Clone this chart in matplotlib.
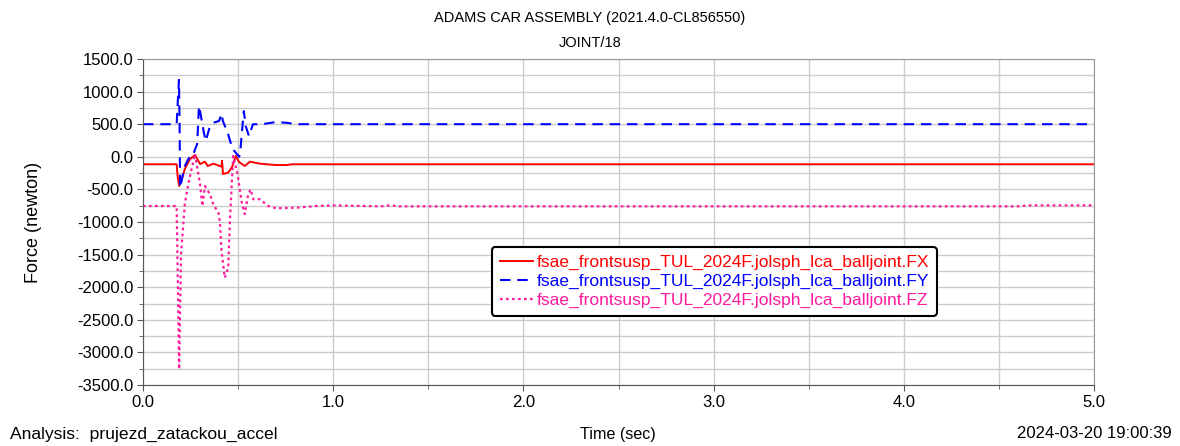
import numpy as np
import matplotlib
matplotlib.use('Agg')
import matplotlib.pyplot as plt

plt.rcParams['font.family'] = ['Liberation Sans', 'DejaVu Sans']

# FX
t_fx = [0.0, 0.177, 0.182, 0.19, 0.205, 0.22, 0.247, 0.273, 0.30, 0.326, 0.34, 0.37, 0.404,
        0.413, 0.415, 0.418, 0.42, 0.447, 0.468, 0.488, 0.505, 0.535, 0.562, 0.615, 0.70,
        0.76, 0.78, 5.0]
fx = [-115, -115, -300, -448, -330, -187, -34, 28, -110, -75, -141, -106, -141,
      -150, -60, -150, -265, -243, -160, 12, -80, -141, -75, -106, -126,
      -126, -115, -115]

# FY
t_fy = [0.0, 0.177, 0.182, 0.189, 0.192, 0.195, 0.22, 0.247, 0.263, 0.285, 0.294, 0.30,
        0.32, 0.33, 0.35, 0.37, 0.40, 0.413, 0.42, 0.447, 0.466, 0.48, 0.505, 0.51,
        0.53, 0.54, 0.557, 0.578, 0.62, 0.70, 0.76, 0.80, 5.0]
fy = [500, 500, 800, 1180, 600, -474, -141, 12, 30, 200, 780, 700,
      370, 242, 450, 523, 549, 661, 549, 350, 165, 90, 0, 40,
      700, 472, 319, 500, 498, 533, 520, 500, 500]

# FZ
t_fz = [0.0, 0.177, 0.19, 0.20, 0.22, 0.238, 0.273, 0.30, 0.312, 0.326, 0.352, 0.37, 0.396,
        0.404, 0.413, 0.43, 0.448, 0.457, 0.474, 0.497, 0.518, 0.535, 0.553, 0.566, 0.58,
        0.614, 0.658, 0.70, 0.81, 0.91, 1.0, 1.25, 1.3, 1.35, 4.6, 4.65, 5.0]
fz = [-755, -755, -3259, -1490, -725, -420, 47, -420, -755, -450, -575, -730, -857,
      -985, -1445, -1855, -1700, -985, 12, -265, -680, -880, -575, -500, -652,
      -650, -755, -790, -780, -755, -745, -760, -745, -760, -760, -745, -745]

labels = ['fsae_frontsusp_TUL_2024F.jolsph_lca_balljoint.FX',
          'fsae_frontsusp_TUL_2024F.jolsph_lca_balljoint.FY',
          'fsae_frontsusp_TUL_2024F.jolsph_lca_balljoint.FZ']
colors = ['#ff0000', '#0000ff', '#ff1a9c']

fig = plt.figure(figsize=(11.8, 4.46), dpi=100)
ax = fig.add_axes([143/1180, 1-385/446, (1094-143)/1180, (385-59)/446])

ax.plot(t_fx, fx, color=colors[0], lw=1.4, linestyle='-', label=labels[0])
ax.plot(t_fy, fy, color=colors[1], lw=1.5, linestyle=(0, (5, 3.3)), label=labels[1])
ax.plot(t_fz, fz, color=colors[2], lw=1.6, linestyle=(0, (1.2, 1.5)), label=labels[2])

ax.set_xlim(0, 5)
ax.set_ylim(-3500, 1500)
ax.set_xticks(np.arange(0, 5.01, 1.0))
ax.set_xticks(np.arange(0, 5.01, 0.5), minor=True)
ax.set_yticks(np.arange(-3500, 1501, 500))
ax.set_yticks(np.arange(-3500, 1501, 250), minor=True)
ax.set_xticklabels(['%.1f' % v for v in np.arange(0, 5.01, 1.0)])
ax.set_yticklabels(['%.1f' % v for v in np.arange(-3500, 1501, 500)])
ax.tick_params(labelsize=12, length=4, color='#555555', pad=3)
ax.tick_params(which='minor', length=3, color='#555555')
ax.grid(True, which='both', color='#cccccc', lw=1)
ax.set_axisbelow(True)
for s in ['top', 'right']:
    ax.spines[s].set_color('#999999')
for s in ['bottom', 'left']:
    ax.spines[s].set_color('#555555')
ax.set_ylabel('Force (newton)', fontsize=13)
ax.yaxis.set_label_coords(-0.106, 0.5)

leg = ax.legend(loc='upper left', bbox_to_anchor=(0.367, 0.423), borderaxespad=0,
                fontsize=12.5, handlelength=1.9, handletextpad=0.2, labelspacing=0.2,
                borderpad=0.45, fancybox=True, framealpha=1, edgecolor='black')
leg.get_frame().set_linewidth(1.5)
for txt, c in zip(leg.get_texts(), colors):
    txt.set_color(c)

fig.text(0.5, 1-18/446, 'ADAMS CAR ASSEMBLY (2021.4.0-CL856550)', ha='center', va='center', fontsize=10.5)
fig.text(0.5, 1-43/446, 'JOINT/18', ha='center', va='center', fontsize=10.5)
fig.text(10/1180, 1-434/446, 'Analysis:  prujezd_zatackou_accel', ha='left', va='center', fontsize=12.6)
fig.text(618/1180, 1-434/446, 'Time (sec)', ha='center', va='center', fontsize=11.6)
fig.text(1172/1180, 1-434/446, '2024-03-20 19:00:39', ha='right', va='center', fontsize=12)

fig.savefig('out.png', dpi=100)
